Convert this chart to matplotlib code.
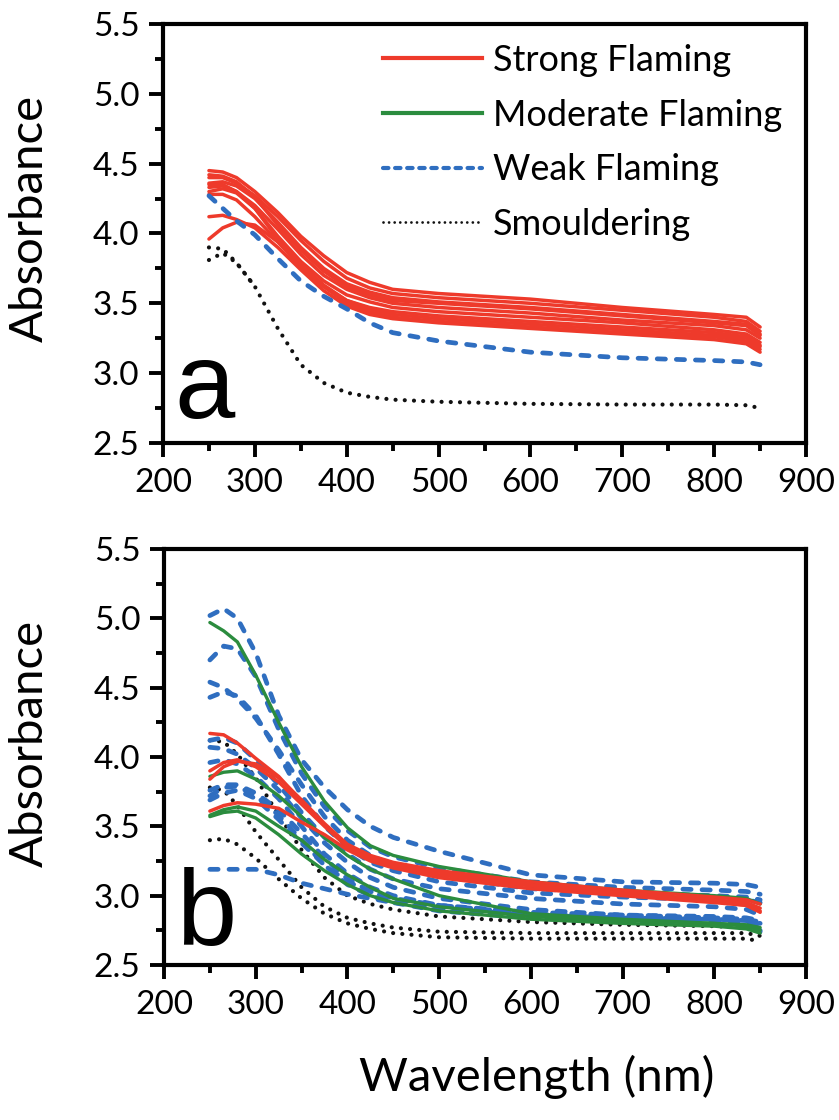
import matplotlib
matplotlib.use('Agg')
import matplotlib.pyplot as plt
from matplotlib.lines import Line2D
from matplotlib.ticker import MultipleLocator, FormatStrFormatter

plt.rcParams['font.family'] = ['Lato', 'DejaVu Sans']

wavelength = [250, 265, 280, 300, 325, 350, 375, 400, 425, 450, 500, 600, 700, 800, 835, 850]

# ---- panel a ----
a_strong = [
    [4.45, 4.44, 4.40, 4.30, 4.15, 3.98, 3.84, 3.72, 3.65, 3.60, 3.57, 3.53, 3.47, 3.42, 3.40, 3.33],
    [4.40, 4.40, 4.36, 4.27, 4.12, 3.95, 3.80, 3.68, 3.61, 3.57, 3.54, 3.50, 3.45, 3.40, 3.37, 3.30],
    [4.42, 4.41, 4.37, 4.26, 4.06, 3.88, 3.73, 3.62, 3.56, 3.52, 3.50, 3.46, 3.41, 3.36, 3.34, 3.27],
    [4.36, 4.37, 4.34, 4.25, 4.08, 3.90, 3.75, 3.64, 3.58, 3.54, 3.51, 3.47, 3.42, 3.37, 3.35, 3.28],
    [4.33, 4.34, 4.30, 4.20, 4.03, 3.85, 3.70, 3.60, 3.54, 3.50, 3.47, 3.43, 3.38, 3.34, 3.31, 3.25],
    [4.30, 4.32, 4.29, 4.18, 3.98, 3.80, 3.66, 3.56, 3.51, 3.47, 3.44, 3.40, 3.36, 3.31, 3.28, 3.22],
    [4.28, 4.28, 4.24, 4.12, 3.94, 3.76, 3.62, 3.52, 3.47, 3.44, 3.41, 3.37, 3.33, 3.29, 3.26, 3.20],
    [4.35, 4.35, 4.30, 4.18, 3.96, 3.78, 3.62, 3.50, 3.44, 3.40, 3.37, 3.33, 3.29, 3.26, 3.23, 3.17],
    [4.12, 4.13, 4.10, 4.04, 3.90, 3.74, 3.59, 3.48, 3.42, 3.39, 3.36, 3.32, 3.28, 3.24, 3.21, 3.15],
    [3.96, 4.04, 4.08, 4.06, 3.94, 3.78, 3.63, 3.52, 3.46, 3.42, 3.39, 3.35, 3.31, 3.27, 3.25, 3.19],
]
a_weak = [
    [4.27, 4.18, 4.09, 3.99, 3.82, 3.66, 3.55, 3.46, 3.36, 3.29, 3.23, 3.15, 3.11, 3.09, 3.08, 3.06],
]
a_smoulder = [
    [3.90, 3.89, 3.79, 3.62, 3.32, 3.06, 2.93, 2.86, 2.83, 2.81, 2.795, 2.78, 2.775, 2.775, 2.77, 2.75],
]
# second smouldering trace only separates from the first below 300 nm
a_smoulder_start = [3.81, 3.86, 3.79, 3.62]

# ---- panel b ----
b_strong = [
    [4.17, 4.16, 4.10, 3.99, 3.86, 3.68, 3.51, 3.36, 3.28, 3.23, 3.17, 3.08, 3.02, 2.97, 2.95, 2.91],
    [3.90, 3.96, 3.98, 3.93, 3.82, 3.66, 3.50, 3.35, 3.27, 3.22, 3.15, 3.07, 3.01, 2.96, 2.93, 2.88],
    [3.84, 3.93, 3.97, 3.95, 3.85, 3.69, 3.52, 3.37, 3.29, 3.24, 3.18, 3.10, 3.04, 2.99, 2.97, 2.94],
    [3.61, 3.65, 3.67, 3.66, 3.63, 3.53, 3.44, 3.33, 3.25, 3.20, 3.13, 3.05, 3.00, 2.95, 2.93, 2.89],
]
b_moderate = [
    [4.97, 4.91, 4.83, 4.59, 4.25, 3.93, 3.68, 3.49, 3.36, 3.29, 3.21, 3.10, 3.04, 3.00, 2.98, 2.94],
    [3.86, 3.89, 3.90, 3.84, 3.72, 3.57, 3.42, 3.29, 3.19, 3.12, 3.00, 2.87, 2.83, 2.80, 2.79, 2.77],
    [3.58, 3.62, 3.64, 3.61, 3.50, 3.40, 3.26, 3.15, 3.06, 2.98, 2.92, 2.85, 2.82, 2.80, 2.78, 2.75],
    [3.57, 3.60, 3.61, 3.56, 3.44, 3.30, 3.18, 3.08, 3.00, 2.95, 2.89, 2.83, 2.80, 2.78, 2.76, 2.73],
]
b_weak = [
    [5.02, 5.07, 5.00, 4.75, 4.30, 3.98, 3.78, 3.62, 3.50, 3.42, 3.32, 3.15, 3.10, 3.09, 3.08, 3.06],
    [4.70, 4.80, 4.78, 4.58, 4.20, 3.88, 3.64, 3.47, 3.35, 3.28, 3.20, 3.10, 3.06, 3.04, 3.03, 3.01],
    [4.54, 4.50, 4.42, 4.28, 4.05, 3.80, 3.57, 3.40, 3.29, 3.22, 3.14, 3.05, 3.02, 3.00, 2.99, 2.97],
    [4.43, 4.47, 4.44, 4.30, 4.02, 3.72, 3.50, 3.35, 3.24, 3.18, 3.10, 3.02, 2.99, 2.97, 2.97, 2.95],
    [4.12, 4.14, 4.10, 3.98, 3.80, 3.60, 3.42, 3.30, 3.19, 3.12, 3.05, 2.98, 2.94, 2.92, 2.90, 2.86],
    [4.07, 4.06, 4.02, 3.92, 3.76, 3.56, 3.38, 3.24, 3.13, 3.06, 2.98, 2.90, 2.86, 2.84, 2.83, 2.81],
    [3.96, 3.98, 3.95, 3.86, 3.70, 3.50, 3.30, 3.16, 3.06, 3.00, 2.93, 2.87, 2.84, 2.82, 2.81, 2.79],
    [3.76, 3.80, 3.80, 3.74, 3.62, 3.45, 3.27, 3.12, 3.03, 2.97, 2.90, 2.84, 2.81, 2.79, 2.78, 2.75],
    [3.72, 3.78, 3.79, 3.72, 3.58, 3.40, 3.22, 3.08, 3.00, 2.95, 2.89, 2.84, 2.81, 2.79, 2.78, 2.74],
    [3.69, 3.74, 3.76, 3.70, 3.55, 3.38, 3.22, 3.10, 3.03, 2.98, 2.93, 2.88, 2.86, 2.85, 2.84, 2.82],
    [3.19, 3.19, 3.19, 3.19, 3.15, 3.09, 3.05, 3.01, 2.98, 2.95, 2.91, 2.86, 2.84, 2.83, 2.82, 2.80],
]
b_smoulder = [
    [4.12, 4.11, 4.02, 3.85, 3.58, 3.33, 3.13, 3.00, 2.94, 2.90, 2.85, 2.81, 2.79, 2.78, 2.77, 2.75],
    [3.78, 3.76, 3.65, 3.46, 3.26, 3.06, 2.92, 2.84, 2.80, 2.77, 2.74, 2.73, 2.73, 2.73, 2.73, 2.71],
    [3.40, 3.41, 3.37, 3.27, 3.12, 2.98, 2.87, 2.80, 2.76, 2.73, 2.70, 2.69, 2.69, 2.69, 2.69, 2.67],
]

legend_labels = ['Strong Flaming', 'Moderate Flaming', 'Weak Flaming', 'Smouldering']

RED = '#ee3a2b'
GREEN = '#2b8c3e'
BLUE = '#2f6ec0'
BLACK = '#111111'

strong_kw = dict(color=RED, lw=2.5, solid_capstyle='round')
moderate_kw = dict(color=GREEN, lw=2.4, solid_capstyle='round')
weak_kw = dict(color=BLUE, lw=3.4, linestyle=(0, (1.75, 2.3)), dash_capstyle='round')
smoulder_kw = dict(color=BLACK, lw=3.0, linestyle=(0, (0.01, 2.2)), dash_capstyle='round')


def style_axis(ax):
    ax.set_xlim(200, 900)
    ax.set_ylim(2.5, 5.5)
    ax.xaxis.set_major_locator(MultipleLocator(100))
    ax.xaxis.set_minor_locator(MultipleLocator(50))
    ax.yaxis.set_major_locator(MultipleLocator(0.5))
    ax.yaxis.set_minor_locator(MultipleLocator(0.25))
    ax.yaxis.set_major_formatter(FormatStrFormatter('%.1f'))
    for sp in ax.spines.values():
        sp.set_linewidth(3.0)
    ax.tick_params(which='both', direction='out', width=2.8, top=False, right=False)
    ax.tick_params(which='major', length=10, labelsize=24)
    ax.tick_params(which='minor', length=5.5)
    ax.tick_params(axis='x', which='major', pad=8)
    ax.tick_params(axis='y', which='major', pad=7)


fig = plt.figure(figsize=(8.39, 11.2), dpi=100)
ax_a = fig.add_axes([0.1943, 0.6045, 0.7664, 0.3741])
ax_b = fig.add_axes([0.1955, 0.1384, 0.7652, 0.3714])

# panel a
for y in a_strong:
    ax_a.plot(wavelength, y, **strong_kw)
for y in a_weak:
    ax_a.plot(wavelength, y, **weak_kw)
for y in a_smoulder:
    ax_a.plot(wavelength, y, **smoulder_kw)
ax_a.plot(wavelength[:len(a_smoulder_start)], a_smoulder_start, **smoulder_kw)

# panel b
for y in b_smoulder:
    ax_b.plot(wavelength, y, **smoulder_kw)
for y in b_weak:
    ax_b.plot(wavelength, y, **weak_kw)
for y in b_moderate:
    ax_b.plot(wavelength, y, **moderate_kw)
for y in b_strong:
    ax_b.plot(wavelength, y, **strong_kw)

for ax, letter, yb in [(ax_a, 'a', 0.06), (ax_b, 'b', 0.048)]:
    style_axis(ax)
    ax.text(0.018, yb, letter, transform=ax.transAxes, fontsize=78,
            family=['Liberation Sans', 'DejaVu Sans'], va='baseline', ha='left')

handles = [
    Line2D([], [], color=RED, lw=3.0),
    Line2D([], [], color=GREEN, lw=3.0),
    Line2D([], [], color=BLUE, lw=3.0, linestyle=(0, (1.3, 1.6)), dash_capstyle='round'),
    Line2D([], [], color=BLACK, lw=2.0, linestyle=(0, (0.01, 2.0)), dash_capstyle='round'),
]
ax_a.legend(handles, legend_labels, loc='upper left', bbox_to_anchor=(0.342, 0.952),
            frameon=False, fontsize=26, handlelength=2.75, handletextpad=0.3,
            labelspacing=0.6, borderpad=0, borderaxespad=0)

fig.text(30 / 839, 1 - 218 / 1120, 'Absorbance', rotation=90, ha='center', va='center', fontsize=34)
fig.text(30 / 839, 1 - 743 / 1120, 'Absorbance', rotation=90, ha='center', va='center', fontsize=34)
fig.text(537 / 839, 1 - 1077 / 1120, 'Wavelength (nm)', ha='center', va='center', fontsize=34)

fig.savefig('out.png', dpi=100)
